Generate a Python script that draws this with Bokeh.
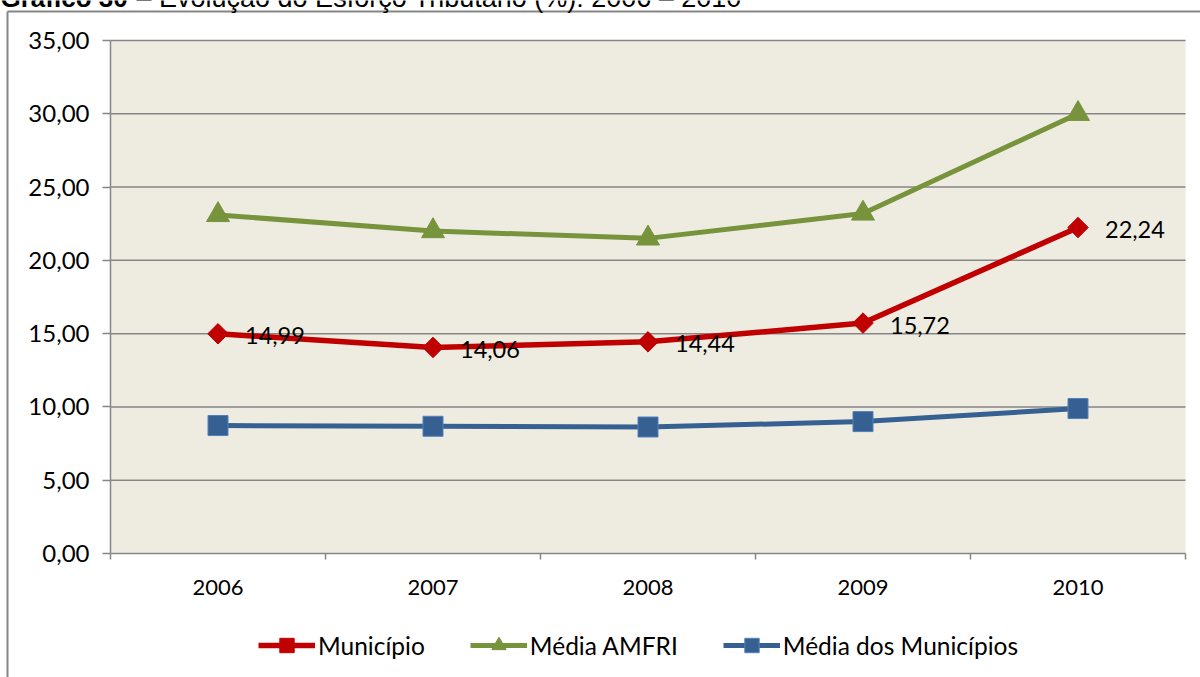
from bokeh.plotting import figure
from bokeh.models import FixedTicker, Label, Arrow, Legend, LegendItem, Range1d, ColumnDataSource
from bokeh.core.properties import value
from bokeh.embed import file_html
from bokeh.resources import INLINE
import numpy as np

years = ["2006", "2007", "2008", "2009", "2010"]
municipio = [14.99, 14.06, 14.44, 15.72, 22.24]
media_amfri = [23.1, 22.0, 21.5, 23.2, 30.0]
media_municipios = [8.73, 8.68, 8.63, 9.0, 9.89]
y_ticks = [0, 5, 10, 15, 20, 25, 30, 35]
y_tick_labels = ["0,00", "5,00", "10,00", "15,00", "20,00", "25,00", "30,00", "35,00"]
series_names = ["Município", "Média AMFRI", "Média dos Municípios"]
title_bold = "Gráfico 30"
title_rest = "– Evolução do Esforço Tributário (%): 2006 – 2010"

FONT = "Lato"
GRID = "#868686"
RED = "#C00000"
GREEN = "#77933C"
BLUE = "#376092"
BEIGE = "#EEECE1"

W, H = 1200, 677
PL, PT, PR, PB = 110, 40, 1185, 553   # plot-area edges in page pixels

n = len(years)
ymin, ymax = y_ticks[0], y_ticks[-1]
xpx = (PR - PL) / n
ypx = (PB - PT) / (ymax - ymin)
x_range = Range1d(-PL / xpx, n + (W - PR) / xpx)
y_range = Range1d(ymin - (H - PB) / ypx, ymax + PT / ypx)

xs = [i + 0.5 for i in range(n)]

# the frame covers the whole canvas so that title, border and legend are not clipped
p = figure(width=W, height=H, output_backend="svg", toolbar_location=None,
           x_range=x_range, y_range=y_range, min_border=0,
           background_fill_color="white", border_fill_color="white")
p.outline_line_color = None
p.xgrid.grid_line_color = None
p.ygrid.grid_line_color = None

# plot area background
p.quad(left=[0], right=[n], bottom=[ymin], top=[ymax], fill_color=BEIGE, line_color=None, level="image")
# horizontal gridlines at the y ticks
p.segment(x0=[0] * (len(y_ticks) - 1), x1=[n] * (len(y_ticks) - 1), y0=y_ticks[1:], y1=y_ticks[1:],
          line_color=GRID, line_width=1.5, level="underlay")

# axes
p.xaxis.fixed_location = ymin
p.xaxis.bounds = (0, n)
p.xaxis.ticker = FixedTicker(ticks=xs, minor_ticks=list(range(n + 1)))
p.xaxis.major_label_overrides = {x: y for x, y in zip(xs, years)}
p.xaxis.major_tick_out = 0
p.xaxis.major_tick_in = 0
p.xaxis.minor_tick_out = 6
p.xaxis.minor_tick_in = 0
p.xaxis.minor_tick_line_color = GRID
p.xaxis.minor_tick_line_width = 1.5
p.xaxis.axis_line_color = GRID
p.xaxis.axis_line_width = 1.5
p.xaxis.major_label_standoff = 20
p.xaxis.major_label_text_font = FONT
p.xaxis.major_label_text_font_size = "22px"
p.xaxis.major_label_text_color = "black"

p.yaxis.fixed_location = 0
p.yaxis.bounds = (ymin, ymax)
p.yaxis.ticker = FixedTicker(ticks=y_ticks, minor_ticks=[])
p.yaxis.major_label_overrides = {t: l for t, l in zip(y_ticks, y_tick_labels)}
p.yaxis.major_tick_out = 8
p.yaxis.major_tick_in = 0
p.yaxis.major_tick_line_color = GRID
p.yaxis.major_tick_line_width = 1.5
p.yaxis.axis_line_color = GRID
p.yaxis.axis_line_width = 1.5
p.yaxis.major_label_standoff = 13
p.yaxis.major_label_text_font = FONT
p.yaxis.major_label_text_font_size = "24px"
p.yaxis.major_label_text_color = "black"

# series
r1l = p.line(xs, municipio, line_color=RED, line_width=5.5)
r1m = p.scatter(xs, municipio, marker="square", angle=np.pi / 4, size=14.5, fill_color=RED, line_color=RED)
r2l = p.line(xs, media_amfri, line_color=GREEN, line_width=5)
r2m = p.scatter(xs, media_amfri, marker="triangle", size=23, fill_color=GREEN, line_color=GREEN)
r3l = p.line(xs, media_municipios, line_color=BLUE, line_width=5)
r3m = p.scatter(xs, media_municipios, marker="square", size=20, fill_color=BLUE, line_color="#4F81BD", line_width=1)

src = ColumnDataSource(dict(x=xs, y=municipio, t=[f"{v:.2f}".replace(".", ",") for v in municipio]))
p.text("x", "y", text="t", source=src, x_offset=27, y_offset=2, text_baseline="middle",
       text_font=value(FONT), text_font_size="23.5px", text_color="black")

legend = Legend(items=[LegendItem(label=series_names[0], renderers=[r1l, r1m]),
                       LegendItem(label=series_names[1], renderers=[r2l, r2m]),
                       LegendItem(label=series_names[2], renderers=[r3l, r3m])],
                orientation="horizontal", location=(258, H - 663))
legend.glyph_width = 57
legend.glyph_height = 36
legend.label_standoff = 3
legend.spacing = 45
legend.padding = 0
legend.margin = 0
legend.border_line_alpha = 0
legend.background_fill_alpha = 0
legend.label_text_font = FONT
legend.label_text_font_size = "24.5px"
legend.label_text_color = "black"
p.add_layout(legend, "center")

# outer chart border (top and left)
for (x0, y0, x1, y1) in [(7, H - 11, W, H - 11), (7, H - 11, 7, 0)]:
    p.add_layout(Arrow(x_start=x0, y_start=y0, x_end=x1, y_end=y1, start=None, end=None,
                       start_units="screen", end_units="screen", line_color=GRID, line_width=2))

# title (cut off at the top edge, as in the reference)
p.add_layout(Label(x=0, y=H + 3, x_units="screen", y_units="screen", text=title_bold,
                   text_font="Liberation Sans", text_font_style="bold", text_font_size="26px",
                   text_baseline="alphabetic", text_color="black"))
p.add_layout(Label(x=136, y=H + 3, x_units="screen", y_units="screen", text=title_rest,
                   text_font="Liberation Sans", text_font_size="27px",
                   text_baseline="alphabetic", text_color="black"))

open("out.html", "w").write(file_html(p, INLINE))
